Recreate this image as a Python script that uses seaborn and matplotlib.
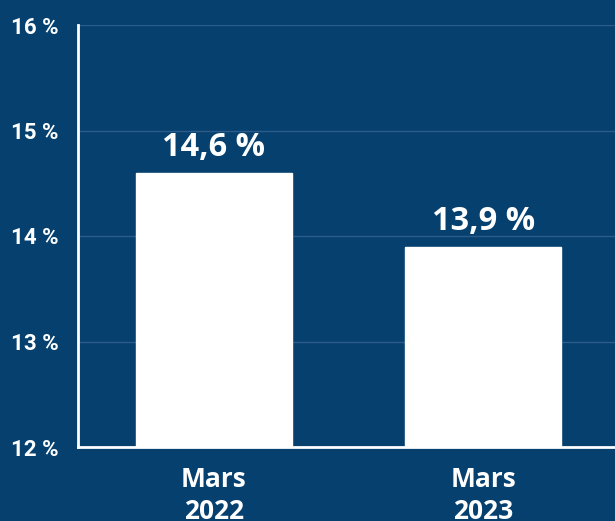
import matplotlib
matplotlib.use("Agg")
import matplotlib.pyplot as plt
import seaborn as sns
import pandas as pd

BG = "#05406f"
GRID = "#2c5c8a"

periods = ["Mars\n2022", "Mars\n2023"]
rates = [14.6, 13.9]
rate_labels = ["14,6 %", "13,9 %"]
y_ticks = [12, 13, 14, 15, 16]
y_tick_labels = ["12 %", "13 %", "14 %", "15 %", "16 %"]

df = pd.DataFrame({"period": periods, "rate": rates})

sns.set_theme(style="white")
plt.rcParams["font.family"] = ["Open Sans", "DejaVu Sans"]

fig = plt.figure(figsize=(6.15, 5.21), dpi=100, facecolor=BG)
ax = fig.add_axes([78 / 615, 74 / 521, 1 - 78 / 615, (447 - 25) / 521])
ax.set_facecolor(BG)

# bars start at 12 % (axis floor)
sns.barplot(data=df, x="period", y="rate", color="white", width=0.58,
            saturation=1, ax=ax, zorder=3)

ax.set_ylim(12, 16)
ax.set_xlim(-0.505, 1.49)
ax.set_yticks(y_ticks)
ax.set_yticklabels(y_tick_labels, fontfamily="Roboto", fontweight="bold",
                   fontsize=16, color="white")
ax.tick_params(axis="y", length=0, pad=14)
ax.tick_params(axis="x", length=0, pad=14)
ax.set_xticks(range(len(periods)))
ax.set_xticklabels(periods, fontweight="bold", fontsize=19, color="white",
                   linespacing=1.2)
ax.set_xlabel("")
ax.set_ylabel("")

ax.yaxis.grid(True, color=GRID, linewidth=1, zorder=0)
ax.set_axisbelow(True)

for side in ["top", "right"]:
    ax.spines[side].set_visible(False)
for side in ["left", "bottom"]:
    ax.spines[side].set_color("white")
    ax.spines[side].set_linewidth(2)
    ax.spines[side].set_zorder(4)

for i, (v, t) in enumerate(zip(rates, rate_labels)):
    ax.annotate(t, (i, v), xytext=(0, 6), textcoords="offset points",
                ha="center", va="bottom", fontsize=23.5, fontweight="bold",
                color="white")

fig.savefig("out.png", dpi=100, facecolor=BG)
